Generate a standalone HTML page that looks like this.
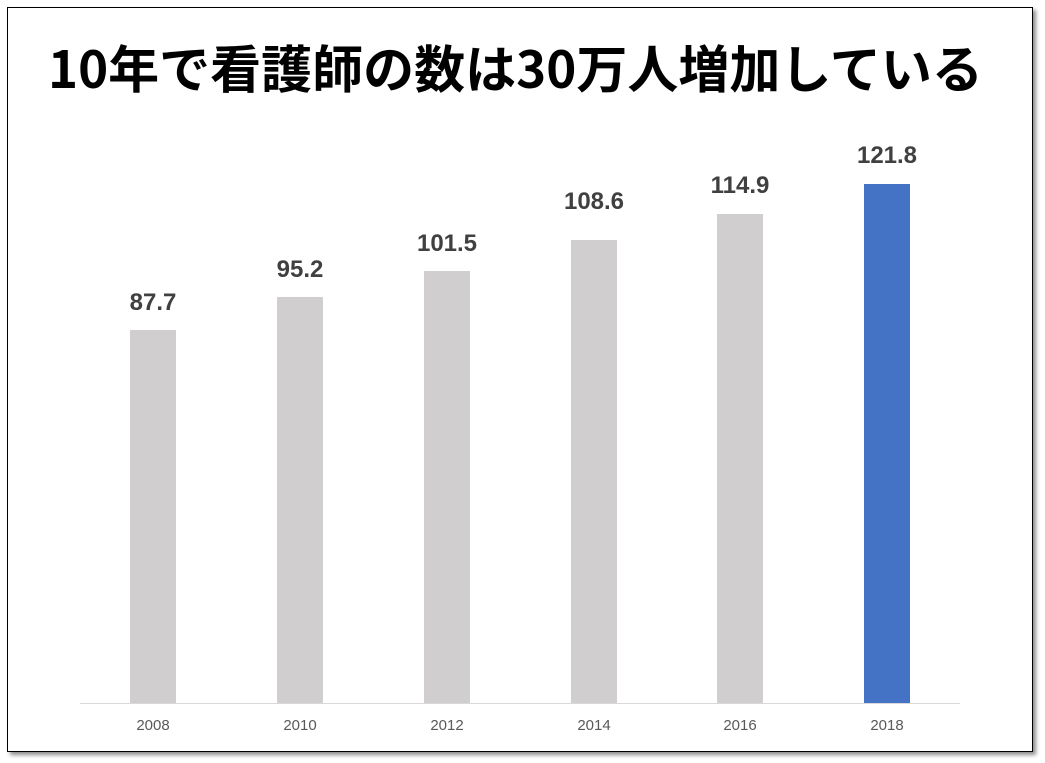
<!DOCTYPE html>
<html><head><meta charset="utf-8"><style>
body{margin:0;width:1045px;height:763px;background:#fff;position:relative;overflow:hidden;font-family:"Liberation Sans","Noto Sans CJK JP",sans-serif}
#f{position:absolute;left:7px;top:7px;width:1024px;height:743px;border:1px solid #000;box-shadow:3px 3px 4px rgba(0,0,0,.45);background:#fff}
.t{position:absolute;left:48px;width:930px;top:36px;line-height:60px;text-align:center;font-size:51px;font-weight:bold;color:#000;white-space:nowrap;font-family:"Noto Sans CJK JP",sans-serif}
.b{position:absolute;width:46px;background:#d0cece}
.v{position:absolute;width:120px;text-align:center;font-size:24px;font-weight:bold;color:#404040}
.x{position:absolute;width:80px;text-align:center;font-size:15px;color:#595959;top:717px}
</style></head><body>
<div id="f"></div>
<div class="t">10年で看護師の数は30万人増加している</div>
<div style="position:absolute;left:80px;top:703px;width:880px;height:1px;background:#d9d9d9"></div>
<div class="b" style="left:130px;top:330px;height:373px"></div>
<div class="b" style="left:277px;top:297px;height:406px"></div>
<div class="b" style="left:424px;top:271px;height:432px"></div>
<div class="b" style="left:571px;top:240px;height:463px"></div>
<div class="b" style="left:717px;top:214px;height:489px"></div>
<div class="b" style="left:864px;top:184px;height:519px;background:#4472c4"></div>
<div class="v" style="left:93px;top:289px">87.7</div>
<div class="v" style="left:240px;top:256px">95.2</div>
<div class="v" style="left:387px;top:230px">101.5</div>
<div class="v" style="left:534px;top:188px">108.6</div>
<div class="v" style="left:680px;top:172px">114.9</div>
<div class="v" style="left:827px;top:142px">121.8</div>
<div class="x" style="left:113px">2008</div>
<div class="x" style="left:260px">2010</div>
<div class="x" style="left:407px">2012</div>
<div class="x" style="left:554px">2014</div>
<div class="x" style="left:700px">2016</div>
<div class="x" style="left:847px">2018</div>
</body></html>
